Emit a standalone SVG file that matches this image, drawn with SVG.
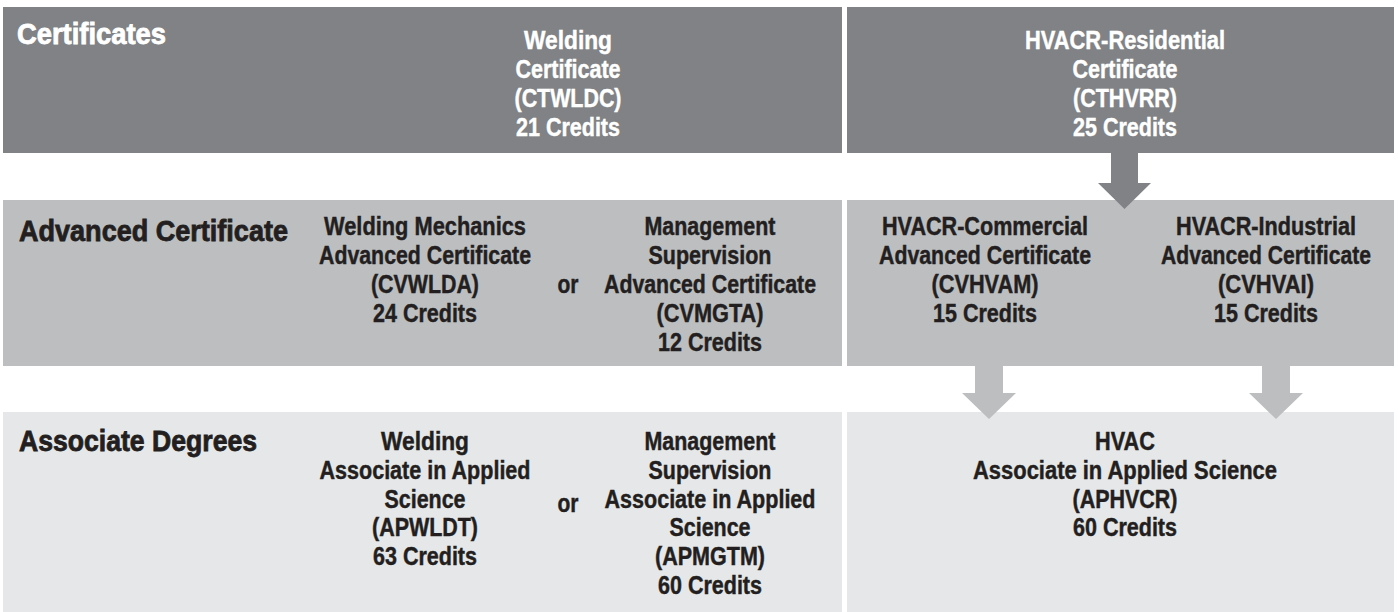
<svg xmlns="http://www.w3.org/2000/svg" width="1398" height="612" viewBox="0 0 1398 612">
<style>
text{font-family:'Liberation Sans',Arial,sans-serif;font-weight:bold}
.t{font-size:26px;text-anchor:middle;stroke-width:0.45px}
.h{font-size:29px;stroke-width:0.8px}
.w{fill:#ffffff;stroke:#ffffff}
.k{fill:#231f20;stroke:#231f20}
.b1{fill:#808285}
.b2{fill:#bcbec0}
.b3{fill:#e6e7e8}
</style>
<rect width="1398" height="612" fill="#ffffff"/>
<g id="bands">
<rect class="b1" x="3" y="7" width="839" height="146"/>
<rect class="b2" x="3" y="200" width="839" height="166"/>
<rect class="b3" x="3" y="412" width="839" height="200"/>
<rect class="b1" x="847" y="7" width="547" height="146"/>
<rect class="b2" x="847" y="200" width="547" height="166"/>
<rect class="b3" x="847" y="412" width="547" height="200"/>
</g>
<g id="row-titles">
<text class="h w" x="17" y="44" textLength="149" lengthAdjust="spacingAndGlyphs">Certificates</text>
<text class="h k" x="19" y="241" textLength="269" lengthAdjust="spacingAndGlyphs">Advanced Certificate</text>
<text class="h k" x="19" y="451" textLength="238" lengthAdjust="spacingAndGlyphs">Associate Degrees</text>
</g>
<g id="welding-certificate">
<text class="t w" x="568" y="49" textLength="88" lengthAdjust="spacingAndGlyphs">Welding</text>
<text class="t w" x="568" y="78" textLength="105" lengthAdjust="spacingAndGlyphs">Certificate</text>
<text class="t w" x="568" y="107" textLength="107" lengthAdjust="spacingAndGlyphs">(CTWLDC)</text>
<text class="t w" x="568" y="136" textLength="104" lengthAdjust="spacingAndGlyphs">21 Credits</text>
</g>
<g id="hvacr-residential">
<text class="t w" x="1125" y="49" textLength="200" lengthAdjust="spacingAndGlyphs">HVACR-Residential</text>
<text class="t w" x="1125" y="78" textLength="105" lengthAdjust="spacingAndGlyphs">Certificate</text>
<text class="t w" x="1125" y="107" textLength="104" lengthAdjust="spacingAndGlyphs">(CTHVRR)</text>
<text class="t w" x="1125" y="136" textLength="104" lengthAdjust="spacingAndGlyphs">25 Credits</text>
</g>
<g id="welding-mechanics">
<text class="t k" x="425" y="235" textLength="202" lengthAdjust="spacingAndGlyphs">Welding Mechanics</text>
<text class="t k" x="425" y="264" textLength="212" lengthAdjust="spacingAndGlyphs">Advanced Certificate</text>
<text class="t k" x="425" y="293" textLength="108" lengthAdjust="spacingAndGlyphs">(CVWLDA)</text>
<text class="t k" x="425" y="322" textLength="104" lengthAdjust="spacingAndGlyphs">24 Credits</text>
</g>
<g id="or-1">
<text class="t k" x="568" y="293" textLength="21" lengthAdjust="spacingAndGlyphs">or</text>
</g>
<g id="management-supervision-advanced">
<text class="t k" x="710" y="235" textLength="131" lengthAdjust="spacingAndGlyphs">Management</text>
<text class="t k" x="710" y="264" textLength="123" lengthAdjust="spacingAndGlyphs">Supervision</text>
<text class="t k" x="710" y="293" textLength="212" lengthAdjust="spacingAndGlyphs">Advanced Certificate</text>
<text class="t k" x="710" y="322" textLength="107" lengthAdjust="spacingAndGlyphs">(CVMGTA)</text>
<text class="t k" x="710" y="351" textLength="104" lengthAdjust="spacingAndGlyphs">12 Credits</text>
</g>
<g id="hvacr-commercial">
<text class="t k" x="985" y="235" textLength="206" lengthAdjust="spacingAndGlyphs">HVACR-Commercial</text>
<text class="t k" x="985" y="264" textLength="212" lengthAdjust="spacingAndGlyphs">Advanced Certificate</text>
<text class="t k" x="985" y="293" textLength="107" lengthAdjust="spacingAndGlyphs">(CVHVAM)</text>
<text class="t k" x="985" y="322" textLength="104" lengthAdjust="spacingAndGlyphs">15 Credits</text>
</g>
<g id="hvacr-industrial">
<text class="t k" x="1266" y="235" textLength="180" lengthAdjust="spacingAndGlyphs">HVACR-Industrial</text>
<text class="t k" x="1266" y="264" textLength="210" lengthAdjust="spacingAndGlyphs">Advanced Certificate</text>
<text class="t k" x="1266" y="293" textLength="96" lengthAdjust="spacingAndGlyphs">(CVHVAI)</text>
<text class="t k" x="1266" y="322" textLength="104" lengthAdjust="spacingAndGlyphs">15 Credits</text>
</g>
<g id="welding-aas">
<text class="t k" x="425" y="450" textLength="88" lengthAdjust="spacingAndGlyphs">Welding</text>
<text class="t k" x="425" y="479" textLength="211" lengthAdjust="spacingAndGlyphs">Associate in Applied</text>
<text class="t k" x="425" y="508" textLength="81" lengthAdjust="spacingAndGlyphs">Science</text>
<text class="t k" x="425" y="536" textLength="106" lengthAdjust="spacingAndGlyphs">(APWLDT)</text>
<text class="t k" x="425" y="565" textLength="104" lengthAdjust="spacingAndGlyphs">63 Credits</text>
</g>
<g id="or-2">
<text class="t k" x="568" y="512" textLength="21" lengthAdjust="spacingAndGlyphs">or</text>
</g>
<g id="management-supervision-aas">
<text class="t k" x="710" y="450" textLength="131" lengthAdjust="spacingAndGlyphs">Management</text>
<text class="t k" x="710" y="479" textLength="123" lengthAdjust="spacingAndGlyphs">Supervision</text>
<text class="t k" x="710" y="508" textLength="211" lengthAdjust="spacingAndGlyphs">Associate in Applied</text>
<text class="t k" x="710" y="536" textLength="81" lengthAdjust="spacingAndGlyphs">Science</text>
<text class="t k" x="710" y="565" textLength="110" lengthAdjust="spacingAndGlyphs">(APMGTM)</text>
<text class="t k" x="710" y="594" textLength="104" lengthAdjust="spacingAndGlyphs">60 Credits</text>
</g>
<g id="hvac-aas">
<text class="t k" x="1125" y="450" textLength="60" lengthAdjust="spacingAndGlyphs">HVAC</text>
<text class="t k" x="1125" y="479" textLength="304" lengthAdjust="spacingAndGlyphs">Associate in Applied Science</text>
<text class="t k" x="1125" y="508" textLength="105" lengthAdjust="spacingAndGlyphs">(APHVCR)</text>
<text class="t k" x="1125" y="536" textLength="104" lengthAdjust="spacingAndGlyphs">60 Credits</text>
</g>
<g id="connectors">
<polygon class="b1" points="1111,153 1138,153 1138,183 1151,183 1124.5,209 1098,183 1111,183"/>
<polygon class="b2" points="975,366 1003,366 1003,393 1016,393 989,419 962,393 975,393"/>
<polygon class="b2" points="1262,366 1290,366 1290,393 1303,393 1276,419 1249,393 1262,393"/>
</g>
</svg>
